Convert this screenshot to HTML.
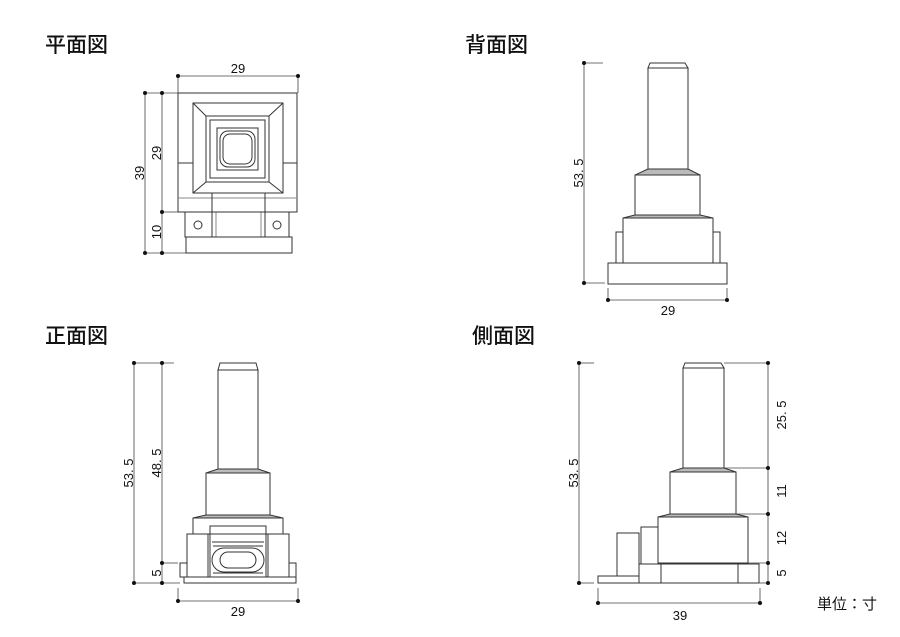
<!DOCTYPE html>
<html><head><meta charset="utf-8"><style>
html,body{margin:0;padding:0;background:#fff;}
svg{display:block;}
text{font-family:"Liberation Sans","Noto Sans CJK JP",sans-serif;fill:#111;}
.t{font-size:21px;font-weight:500;}
.d{font-size:13px;}
</style></head><body>
<svg width="900" height="637" viewBox="0 0 900 637" xmlns="http://www.w3.org/2000/svg">
<g fill="none" stroke="#333" stroke-width="1">
<!-- PLAN -->
<rect x="178" y="93" width="119" height="119"/>
<line x1="178" y1="163" x2="193" y2="163"/><line x1="283" y1="163" x2="297" y2="163"/>
<line x1="178" y1="198" x2="297" y2="198" stroke="#888"/>
<rect x="193" y="103" width="90" height="90"/>
<rect x="206" y="116" width="63" height="66"/>
<line x1="193" y1="103" x2="206" y2="116"/><line x1="283" y1="103" x2="269" y2="116"/>
<line x1="193" y1="193" x2="206" y2="182"/><line x1="283" y1="193" x2="269" y2="182"/>
<rect x="210" y="120" width="55" height="58"/>
<rect x="217" y="128" width="41" height="42"/>
<rect x="220" y="131" width="35" height="36" rx="8"/>
<rect x="223" y="134" width="29" height="30" rx="7"/>
<rect x="212" y="193" width="53" height="44"/>
<line x1="216" y1="212" x2="216" y2="237" stroke="#888"/><line x1="261" y1="212" x2="261" y2="237" stroke="#888"/>
<line x1="212" y1="212" x2="265" y2="212"/>
<rect x="185" y="212" width="27" height="25"/>
<rect x="265" y="212" width="24" height="25"/>
<circle cx="198" cy="225" r="4"/><circle cx="277" cy="225" r="4"/>
<rect x="186" y="237" width="106" height="16"/>
<!-- BACK -->
<path d="M650 63 L685 63 L688 68 L648 68 Z"/>
<rect x="648" y="68" width="40" height="101"/>
<path d="M648 169 L688 169 L700 175 L635 175 Z" fill="#bbb"/>
<rect x="635" y="175" width="65" height="40"/>
<path d="M635 215 L700 215 L713 218 L623 218 Z" fill="#bbb"/>
<rect x="623" y="218" width="90" height="45"/>
<rect x="616" y="232" width="7" height="31"/><rect x="713" y="232" width="7" height="31"/>
<rect x="608" y="263" width="119" height="21"/>
<!-- FRONT -->
<path d="M220 363 L256 363 L258 370 L218 370 Z"/>
<rect x="218" y="370" width="40" height="99"/>
<path d="M218 469 L258 469 L270 473 L206 473 Z" fill="#bbb"/>
<rect x="206" y="473" width="64" height="42"/>
<path d="M206 515 L270 515 L283 518 L193 518 Z" fill="#bbb"/>
<rect x="193" y="518" width="90" height="16"/>
<rect x="187" y="534" width="21" height="43"/><rect x="268" y="534" width="21" height="43"/>
<rect x="210" y="526" width="56" height="51"/>
<line x1="212" y1="542" x2="264" y2="542"/><line x1="213" y1="546" x2="263" y2="546"/>
<rect x="212" y="548" width="52" height="24" rx="12"/>
<rect x="220" y="552" width="36" height="16" rx="8"/>
<line x1="213" y1="573" x2="263" y2="573"/>
<rect x="180" y="563" width="7" height="14"/><rect x="289" y="563" width="7" height="14"/>
<rect x="184" y="577" width="112" height="6"/>
<!-- SIDE -->
<path d="M685 363 L721 363 L724 368 L683 368 Z"/>
<rect x="683" y="368" width="41" height="100"/>
<path d="M683 468 L724 468 L736 472 L670 472 Z" fill="#bbb"/>
<rect x="670" y="472" width="66" height="42"/>
<path d="M670 514 L736 514 L748 517 L658 517 Z" fill="#bbb"/>
<rect x="658" y="517" width="90" height="46"/>
<rect x="639" y="564" width="120" height="19"/>
<line x1="661" y1="564" x2="661" y2="583"/><line x1="738" y1="564" x2="738" y2="583"/>
<rect x="598" y="576" width="41" height="7"/>
<rect x="617" y="533" width="22" height="43"/>
<rect x="641" y="527" width="17" height="37"/>
</g>
<g fill="none" stroke="#444" stroke-width="0.8">
<line x1="178" y1="76" x2="298" y2="76"/><line x1="178" y1="76" x2="178" y2="93"/><line x1="298" y1="76" x2="298" y2="93"/>
<line x1="145" y1="93" x2="145" y2="253"/><line x1="162" y1="93" x2="162" y2="253"/>
<line x1="145" y1="93" x2="178" y2="93"/><line x1="145" y1="253" x2="186" y2="253"/><line x1="162" y1="212" x2="178" y2="212"/>
<line x1="584" y1="63" x2="584" y2="283"/><line x1="584" y1="63" x2="603" y2="63"/><line x1="584" y1="283" x2="605" y2="283"/>
<line x1="608" y1="300" x2="727" y2="300"/><line x1="608" y1="288" x2="608" y2="300"/><line x1="727" y1="288" x2="727" y2="300"/>
<line x1="134" y1="363" x2="134" y2="583"/><line x1="162" y1="363" x2="162" y2="583"/>
<line x1="134" y1="363" x2="174" y2="363"/><line x1="134" y1="583" x2="180" y2="583"/><line x1="162" y1="563" x2="178" y2="563"/>
<line x1="178" y1="601" x2="298" y2="601"/><line x1="178" y1="588" x2="178" y2="601"/><line x1="298" y1="588" x2="298" y2="601"/>
<line x1="579" y1="363" x2="579" y2="583"/><line x1="579" y1="363" x2="594" y2="363"/><line x1="579" y1="583" x2="594" y2="583"/>
<line x1="768" y1="363" x2="768" y2="583"/>
<line x1="724" y1="363" x2="768" y2="363"/><line x1="724" y1="468" x2="768" y2="468"/><line x1="736" y1="514" x2="768" y2="514"/><line x1="748" y1="563" x2="768" y2="563"/><line x1="759" y1="583" x2="768" y2="583"/>
<line x1="598" y1="603" x2="760" y2="603"/><line x1="598" y1="588" x2="598" y2="603"/><line x1="760" y1="588" x2="760" y2="603"/>
</g>
<g fill="#111">
<circle cx="178" cy="76" r="2"/><circle cx="298" cy="76" r="2"/>
<circle cx="145" cy="93" r="2"/><circle cx="162" cy="93" r="2"/><circle cx="162" cy="212" r="2"/><circle cx="145" cy="253" r="2"/><circle cx="162" cy="253" r="2"/>
<circle cx="584" cy="63" r="2"/><circle cx="584" cy="283" r="2"/><circle cx="608" cy="300" r="2"/><circle cx="727" cy="300" r="2"/>
<circle cx="134" cy="363" r="2"/><circle cx="162" cy="363" r="2"/><circle cx="162" cy="563" r="2"/><circle cx="134" cy="583" r="2"/><circle cx="162" cy="583" r="2"/>
<circle cx="178" cy="601" r="2"/><circle cx="298" cy="601" r="2"/>
<circle cx="579" cy="363" r="2"/><circle cx="579" cy="583" r="2"/>
<circle cx="768" cy="363" r="2"/><circle cx="768" cy="468" r="2"/><circle cx="768" cy="514" r="2"/><circle cx="768" cy="563" r="2"/><circle cx="768" cy="583" r="2"/>
<circle cx="598" cy="603" r="2"/><circle cx="760" cy="603" r="2"/>
</g>
<text class="t" x="45" y="52">平面図</text>
<text class="t" x="465" y="52">背面図</text>
<text class="t" x="45" y="343">正面図</text>
<text class="t" x="472" y="343">側面図</text>
<text class="d" x="238" y="73" text-anchor="middle">29</text>
<text class="d" transform="translate(144,173) rotate(-90)" text-anchor="middle">39</text>
<text class="d" transform="translate(161,153) rotate(-90)" text-anchor="middle">29</text>
<text class="d" transform="translate(161,232) rotate(-90)" text-anchor="middle">10</text>
<text class="d" transform="translate(583,173) rotate(-90)" text-anchor="middle">53. 5</text>
<text class="d" x="668" y="315" text-anchor="middle">29</text>
<text class="d" transform="translate(133,473) rotate(-90)" text-anchor="middle">53. 5</text>
<text class="d" transform="translate(161,463) rotate(-90)" text-anchor="middle">48. 5</text>
<text class="d" transform="translate(161,573) rotate(-90)" text-anchor="middle">5</text>
<text class="d" x="238" y="616" text-anchor="middle">29</text>
<text class="d" transform="translate(578,473) rotate(-90)" text-anchor="middle">53. 5</text>
<text class="d" transform="translate(786,415) rotate(-90)" text-anchor="middle">25. 5</text>
<text class="d" transform="translate(786,491) rotate(-90)" text-anchor="middle">11</text>
<text class="d" transform="translate(786,538) rotate(-90)" text-anchor="middle">12</text>
<text class="d" transform="translate(786,573) rotate(-90)" text-anchor="middle">5</text>
<text class="d" x="680" y="620" text-anchor="middle">39</text>
<text x="817" y="609" style="font-size:15px">単位：寸</text>
</svg>
</body></html>
